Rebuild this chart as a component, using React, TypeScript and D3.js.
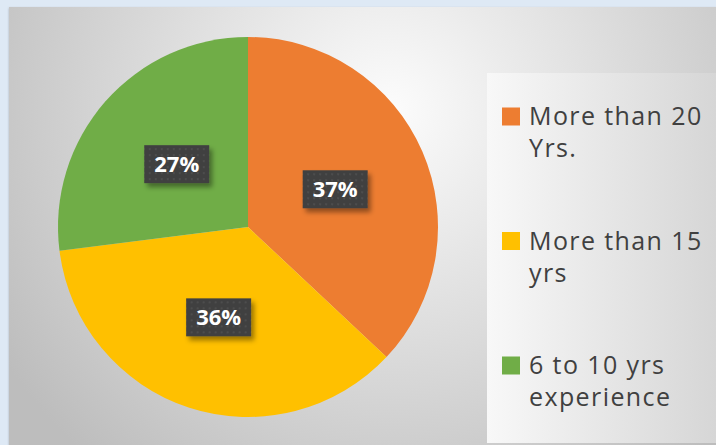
import React from "react";
import * as d3 from "d3";

const categories = ["More than 20 Yrs.", "More than 15 yrs", "6 to 10 yrs experience"];
const legendLines = [["More than 20", "Yrs."], ["More than 15", "yrs"], ["6 to 10 yrs", "experience"]];
const values = [37, 36, 27];
const colors = ["#ED7D31", "#FFC000", "#70AD47"];

const W = 716;
const H = 445;

export default function App() {
  const cx = 248, cy = 227, r = 190;
  const pie = d3.pie<number>().sort(null).value((d) => d)(values);
  const arc = d3.arc<d3.PieArcDatum<number>>().innerRadius(0).outerRadius(r);
  const legendY = d3.scalePoint<string>().domain(categories).range([125, 374]);

  return (
    <svg width={W} height={H} style={{ position: "absolute", left: 0, top: 0 }}>
      <defs>
        <radialGradient id="bg" gradientUnits="userSpaceOnUse" cx={390} cy={110} r={460}>
          <stop offset="0" stopColor="#fcfcfc" />
          <stop offset="1" stopColor="#bdbdbd" />
        </radialGradient>
        <linearGradient id="lg" x1="0" y1="0" x2="1" y2="0">
          <stop offset="0" stopColor="#f8f8f8" />
          <stop offset="1" stopColor="#d6d6d6" />
        </linearGradient>
        <pattern id="dots" width={6} height={6} patternUnits="userSpaceOnUse">
          <rect width={6} height={6} fill="#404040" />
          <rect x={2} y={2} width={2} height={2} fill="#4d4d4d" />
        </pattern>
        <filter id="sh" x="-20%" y="-20%" width="150%" height="160%">
          <feDropShadow dx={3} dy={4} stdDeviation={2.5} floodColor="#000" floodOpacity={0.4} />
        </filter>
        <filter id="topsh" x="-5%" y="-5%" width="110%" height="110%">
          <feDropShadow dx={0} dy={1} stdDeviation={1} floodColor="#000" floodOpacity={0.25} />
        </filter>
      </defs>
      <rect x={0} y={0} width={W} height={H} fill="#dee9f5" />
      <rect x={9} y={7} width={W - 9} height={H - 7} fill="url(#bg)" filter="url(#topsh)" />
      <rect x={487} y={73} width={W - 487} height={H - 73 - 2} fill="url(#lg)" />
      <g transform={`translate(${cx},${cy})`}>
        {pie.map((d, i) => (
          <path key={i} d={arc(d) || ""} fill={colors[i]} />
        ))}
        {pie.map((d, i) => {
          const [x, y] = arc.centroid(d);
          return (
            <g key={"l" + i} transform={`translate(${x},${y})`}>
              <rect x={-32.5} y={-19} width={65} height={38} fill="url(#dots)" filter="url(#sh)" />
              <text
                x={0}
                y={8}
                textAnchor="middle"
                fill="#ffffff"
                fontFamily="'Open Sans', sans-serif"
                fontWeight="bold"
                fontSize={22}
              >
                {Math.round(d.data) + "%"}
              </text>
            </g>
          );
        })}
      </g>
      {categories.map((c, i) => {
        const y = legendY(c)!;
        return (
          <g key={c}>
            <rect x={502} y={y - 17.5} width={18} height={18} fill={colors[i]} />
            {legendLines[i].map((t, j) => (
              <text
                key={j}
                x={529}
                y={y + j * 32}
                fill="#404040"
                fontFamily="'Open Sans', sans-serif"
                fontSize={25}
                letterSpacing={1.4}
              >
                {t}
              </text>
            ))}
          </g>
        );
      })}
    </svg>
  );
}
